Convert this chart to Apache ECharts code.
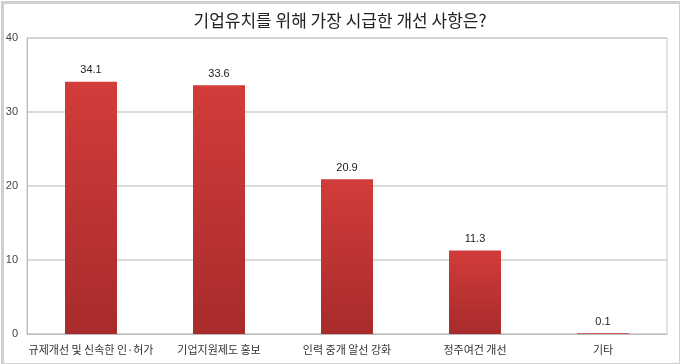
<!DOCTYPE html>
<html><head><meta charset="utf-8">
<script src="https://cdn.jsdelivr.net/npm/echarts@6/dist/echarts.min.js"></script>
<style>html,body{margin:0;padding:0;background:#fff}#c{width:680px;height:364px}</style>
</head><body><div id="c"></div>
<script>
var titleText = '기업유치를 위해 가장 시급한 개선 사항은?';
var categories = ['규제개선 및 신속한 인·허가', '기업지원제도 홍보', '인력 중개 알선 강화', '정주여건 개선', '기타'];
var values = [34.1, 33.6, 20.9, 11.3, 0.1];
var yTicks = [0, 10, 20, 30, 40];

var chart = echarts.init(document.getElementById('c'), null, {renderer: 'canvas'});
var font = '"Noto Sans CJK KR", "Noto Sans", sans-serif';
chart.setOption({
  animation: false,
  backgroundColor: '#fff',
  title: {
    text: titleText, left: 'center', top: 7,
    textStyle: {fontFamily: font, fontSize: 17, fontWeight: 'normal', color: '#222'}
  },
  graphic: [{
    type: 'rect', left: 0, top: 0, z: 100,
    shape: {x: 1, y: 1, width: 678, height: 362},
    style: {fill: 'none', stroke: '#cfcfcf', lineWidth: 3}
  }],
  grid: {left: 27, right: 13, top: 38, bottom: 30, show: true, borderColor: '#c8c8c8', borderWidth: 1, containLabel: false},
  xAxis: {
    type: 'category', data: categories,
    axisLine: {show: true, lineStyle: {color: '#bbb'}},
    axisTick: {show: false},
    axisLabel: {fontFamily: font, fontSize: 11, color: '#333', margin: 10, interval: 0}
  },
  yAxis: {
    type: 'value', min: yTicks[0], max: yTicks[yTicks.length - 1], interval: 10,
    axisLine: {show: true, lineStyle: {color: '#bbb'}},
    axisTick: {show: false},
    axisLabel: {fontFamily: '"Liberation Sans", Arial, sans-serif', fontSize: 11, color: '#444', margin: 9},
    splitLine: {lineStyle: {color: '#cfcfcf', width: 1.5}}
  },
  series: [{
    type: 'bar', data: values, barWidth: 52,
    itemStyle: {color: new echarts.graphic.LinearGradient(0, 0, 0, 1, [
      {offset: 0, color: '#d23c3a'}, {offset: 1, color: '#a82b2b'}])},
    label: {show: true, position: 'top', distance: 6, fontFamily: '"Liberation Sans", Arial, sans-serif', fontSize: 11, color: '#222'}
  }]
});
</script></body></html>
